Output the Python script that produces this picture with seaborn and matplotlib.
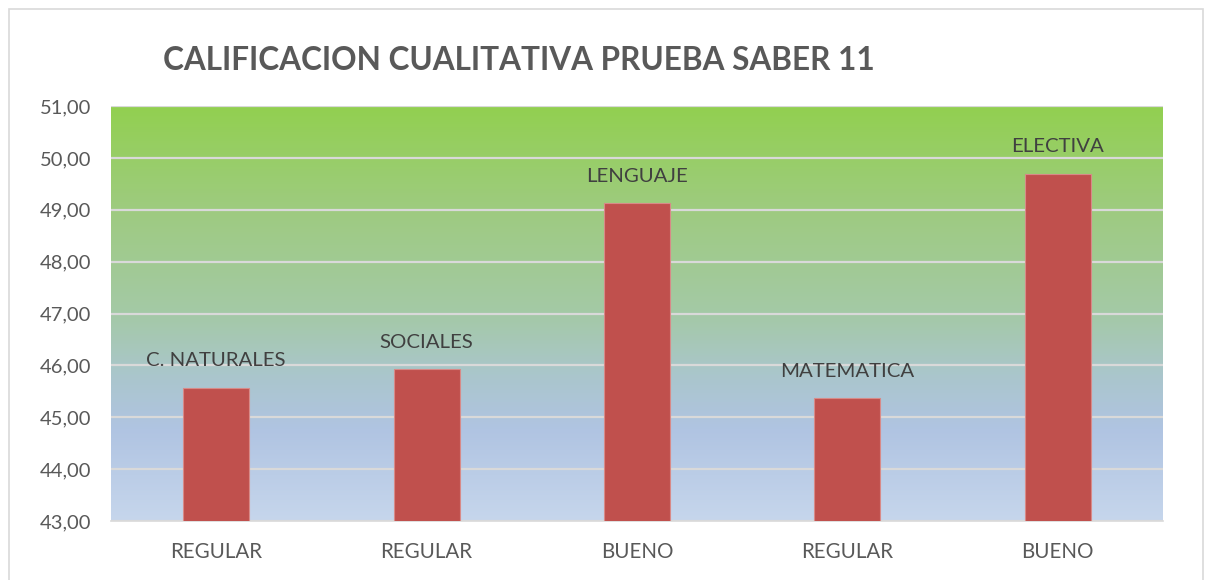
"""Bar chart: calificacion cualitativa prueba Saber 11."""

import matplotlib

matplotlib.use("Agg")
import matplotlib.pyplot as plt
import numpy as np
import pandas as pd
import seaborn as sns
from matplotlib.colors import LinearSegmentedColormap
from matplotlib.patches import Rectangle
from matplotlib.ticker import FuncFormatter, MultipleLocator

materias = ["C. NATURALES", "SOCIALES", "LENGUAJE", "MATEMATICA", "ELECTIVA"]
calificaciones = ["REGULAR", "REGULAR", "BUENO", "REGULAR", "BUENO"]
puntajes = [45.57, 45.93, 49.13, 45.37, 49.69]

df = pd.DataFrame({"materia": materias, "calificacion": calificaciones, "puntaje": puntajes})

sns.set_theme(style="white")
plt.rcParams["font.family"] = ["Lato", "DejaVu Sans"]

fig = plt.figure(figsize=(12.06, 5.8), dpi=100)
ax = fig.add_axes([111 / 1206, 1 - 521 / 580, 1052 / 1206, 415 / 580])

# gradient background of the plot area (top green -> bottom light blue)
grad = LinearSegmentedColormap.from_list(
    "fondo",
    [
        (0.0, "#92D050"),
        (0.25, "#9ECB80"),
        (0.5, "#A4C9A6"),
        (0.65, "#AAC6CC"),
        (0.78, "#B0C4E2"),
        (1.0, "#C6D6EC"),
    ],
)
ax.imshow(
    np.linspace(0, 1, 256).reshape(-1, 1),
    cmap=grad,
    aspect="auto",
    extent=(-0.5, 4.5, 43, 51),
    zorder=0,
)

sns.barplot(
    data=df,
    x="materia",
    y="puntaje",
    color="#C0504D",
    width=0.314,
    edgecolor="#D88A88",
    linewidth=0.8,
    saturation=1,
    ax=ax,
    zorder=3,
)

ax.set_xlim(-0.5, 4.5)
ax.set_ylim(43, 51)
ax.yaxis.set_major_locator(MultipleLocator(1))
ax.yaxis.set_major_formatter(FuncFormatter(lambda v, _: f"{v:.2f}".replace(".", ",")))
ax.grid(axis="y", color="#D9D9D9", linewidth=1.6, zorder=1)
ax.set_axisbelow(False)
for line in ax.get_ygridlines():
    line.set_zorder(1)

ax.set_xticks(range(len(calificaciones)))
ax.set_xticklabels(calificaciones)
ax.set_xlabel("")
ax.set_ylabel("")
ax.tick_params(axis="x", length=0, pad=15, labelsize=14.8, labelcolor="#595959")
ax.tick_params(axis="y", length=0, pad=14, labelsize=14.5, labelcolor="#595959")

for side in ["top", "right", "left"]:
    ax.spines[side].set_visible(False)
ax.spines["bottom"].set_color("#D9D9D9")
ax.spines["bottom"].set_linewidth(1.2)

for i, (nombre, valor) in enumerate(zip(materias, puntajes)):
    ax.annotate(
        nombre,
        xy=(i, valor),
        xytext=(0, 27),
        textcoords="offset pixels",
        ha="center",
        va="center",
        fontsize=14.7,
        color="#404040",
        zorder=4,
    )

fig.text(
    519 / 1206,
    1 - 60 / 580,
    "CALIFICACION CUALITATIVA PRUEBA SABER 11",
    ha="center",
    va="center",
    fontsize=22.7,
    fontweight="bold",
    color="#595959",
)

fig.patches.append(
    Rectangle(
        (9 / 1206, -0.01),
        1194 / 1206,
        1 - 9 / 580 + 0.01,
        transform=fig.transFigure,
        fill=False,
        edgecolor="#D9D9D9",
        linewidth=1.2,
    )
)

fig.savefig("out.png", dpi=100)
